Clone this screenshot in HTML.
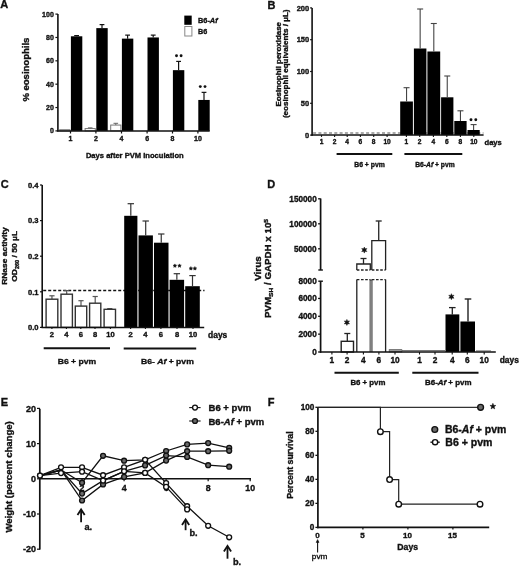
<!DOCTYPE html>
<html><head><meta charset="utf-8"><style>
html,body{margin:0;padding:0;background:#fff;}
body{width:520px;height:566px;overflow:hidden;}
svg{display:block;font-family:"Liberation Sans", sans-serif;filter:grayscale(100%) blur(0.3px);}
text{stroke:#111;stroke-width:0.35px;}
</style></head><body>
<svg width="520" height="566" viewBox="0 0 520 566">
<rect width="520" height="566" fill="#fff"/>
<text x="0.30" y="8.40" font-size="11" text-anchor="start" font-weight="bold" fill="#111">A</text>
<rect x="59.70" y="129.73" width="10.20" height="1.17" fill="#fff" stroke="#777" stroke-width="1"/>
<rect x="70.90" y="36.29" width="11.40" height="94.61" fill="#000" stroke="none" stroke-width="0"/>
<line x1="76.60" y1="36.29" x2="76.60" y2="35.59" stroke="#111" stroke-width="1.2"/>
<line x1="74.20" y1="35.59" x2="79.00" y2="35.59" stroke="#111" stroke-width="1.2"/>
<rect x="85.10" y="128.56" width="10.20" height="2.34" fill="#fff" stroke="#777" stroke-width="1"/>
<line x1="90.20" y1="128.56" x2="90.20" y2="127.86" stroke="#666" stroke-width="1"/>
<line x1="87.90" y1="127.86" x2="92.50" y2="127.86" stroke="#666" stroke-width="1"/>
<rect x="96.30" y="28.12" width="11.40" height="102.78" fill="#000" stroke="none" stroke-width="0"/>
<line x1="102.00" y1="28.12" x2="102.00" y2="24.61" stroke="#111" stroke-width="1.2"/>
<line x1="99.60" y1="24.61" x2="104.40" y2="24.61" stroke="#111" stroke-width="1.2"/>
<rect x="110.70" y="125.06" width="10.20" height="5.84" fill="#fff" stroke="#777" stroke-width="1"/>
<line x1="115.80" y1="125.06" x2="115.80" y2="123.31" stroke="#666" stroke-width="1"/>
<line x1="113.50" y1="123.31" x2="118.10" y2="123.31" stroke="#666" stroke-width="1"/>
<rect x="121.90" y="38.63" width="11.40" height="92.27" fill="#000" stroke="none" stroke-width="0"/>
<line x1="127.60" y1="38.63" x2="127.60" y2="35.12" stroke="#111" stroke-width="1.2"/>
<line x1="125.20" y1="35.12" x2="130.00" y2="35.12" stroke="#111" stroke-width="1.2"/>
<rect x="147.50" y="37.46" width="11.40" height="93.44" fill="#000" stroke="none" stroke-width="0"/>
<line x1="153.20" y1="37.46" x2="153.20" y2="35.12" stroke="#111" stroke-width="1.2"/>
<line x1="150.80" y1="35.12" x2="155.60" y2="35.12" stroke="#111" stroke-width="1.2"/>
<rect x="172.90" y="70.16" width="11.40" height="60.74" fill="#000" stroke="none" stroke-width="0"/>
<line x1="178.60" y1="70.16" x2="178.60" y2="61.40" stroke="#111" stroke-width="1.2"/>
<line x1="176.20" y1="61.40" x2="181.00" y2="61.40" stroke="#111" stroke-width="1.2"/>
<rect x="198.30" y="99.95" width="11.40" height="30.95" fill="#000" stroke="none" stroke-width="0"/>
<line x1="204.00" y1="99.95" x2="204.00" y2="92.36" stroke="#111" stroke-width="1.2"/>
<line x1="201.60" y1="92.36" x2="206.40" y2="92.36" stroke="#111" stroke-width="1.2"/>
<circle cx="176.5" cy="55.8" r="1.45" fill="#111"/>
<circle cx="181.1" cy="55.8" r="1.45" fill="#111"/>
<circle cx="200.3" cy="86.6" r="1.45" fill="#111"/>
<circle cx="205.0" cy="86.6" r="1.45" fill="#111"/>
<line x1="57.90" y1="14.10" x2="57.90" y2="131.60" stroke="#111" stroke-width="1.6"/>
<line x1="57.20" y1="130.90" x2="209.70" y2="130.90" stroke="#111" stroke-width="1.5"/>
<line x1="55.40" y1="130.90" x2="57.90" y2="130.90" stroke="#111" stroke-width="1.2"/>
<text x="53.80" y="133.40" font-size="7" text-anchor="end" font-weight="bold" fill="#111">0</text>
<line x1="55.40" y1="107.54" x2="57.90" y2="107.54" stroke="#111" stroke-width="1.2"/>
<text x="53.80" y="110.04" font-size="7" text-anchor="end" font-weight="bold" fill="#111">20</text>
<line x1="55.40" y1="84.18" x2="57.90" y2="84.18" stroke="#111" stroke-width="1.2"/>
<text x="53.80" y="86.68" font-size="7" text-anchor="end" font-weight="bold" fill="#111">40</text>
<line x1="55.40" y1="60.82" x2="57.90" y2="60.82" stroke="#111" stroke-width="1.2"/>
<text x="53.80" y="63.32" font-size="7" text-anchor="end" font-weight="bold" fill="#111">60</text>
<line x1="55.40" y1="37.46" x2="57.90" y2="37.46" stroke="#111" stroke-width="1.2"/>
<text x="53.80" y="39.96" font-size="7" text-anchor="end" font-weight="bold" fill="#111">80</text>
<line x1="55.40" y1="14.10" x2="57.90" y2="14.10" stroke="#111" stroke-width="1.2"/>
<text x="53.80" y="16.60" font-size="7" text-anchor="end" font-weight="bold" fill="#111">100</text>
<line x1="70.50" y1="130.90" x2="70.50" y2="133.50" stroke="#111" stroke-width="1.2"/>
<text x="70.50" y="141.10" font-size="7" text-anchor="middle" font-weight="bold" fill="#111">1</text>
<line x1="95.90" y1="130.90" x2="95.90" y2="133.50" stroke="#111" stroke-width="1.2"/>
<text x="95.90" y="141.10" font-size="7" text-anchor="middle" font-weight="bold" fill="#111">2</text>
<line x1="121.50" y1="130.90" x2="121.50" y2="133.50" stroke="#111" stroke-width="1.2"/>
<text x="121.50" y="141.10" font-size="7" text-anchor="middle" font-weight="bold" fill="#111">4</text>
<line x1="147.10" y1="130.90" x2="147.10" y2="133.50" stroke="#111" stroke-width="1.2"/>
<text x="147.10" y="141.10" font-size="7" text-anchor="middle" font-weight="bold" fill="#111">6</text>
<line x1="172.50" y1="130.90" x2="172.50" y2="133.50" stroke="#111" stroke-width="1.2"/>
<text x="172.50" y="141.10" font-size="7" text-anchor="middle" font-weight="bold" fill="#111">8</text>
<line x1="197.90" y1="130.90" x2="197.90" y2="133.50" stroke="#111" stroke-width="1.2"/>
<text x="197.90" y="141.10" font-size="7" text-anchor="middle" font-weight="bold" fill="#111">10</text>
<text x="85.90" y="157.60" font-size="7.6" text-anchor="start" font-weight="bold" fill="#111" textLength="97.8" lengthAdjust="spacingAndGlyphs">Days after PVM inoculation</text>
<text transform="translate(28.60,101.60) rotate(-90)" font-size="8.5" font-weight="bold" fill="#111" textLength="64" lengthAdjust="spacingAndGlyphs">% eosinophils</text>
<rect x="184.30" y="15.60" width="7.40" height="9.20" fill="#000" stroke="none" stroke-width="0"/>
<rect x="184.80" y="26.50" width="7.10" height="9.50" fill="#fff" stroke="#888" stroke-width="1"/>
<text x="198.0" y="22.5" font-size="7.3" font-weight="bold" fill="#111" textLength="19.6" lengthAdjust="spacingAndGlyphs">B6-<tspan font-style="italic">Af</tspan></text>
<text x="198.00" y="33.70" font-size="7.5" text-anchor="start" font-weight="bold" fill="#111" textLength="9.2" lengthAdjust="spacingAndGlyphs">B6</text>
<text x="267.50" y="8.70" font-size="11" text-anchor="start" font-weight="bold" fill="#111">B</text>
<line x1="313.10" y1="133.00" x2="483.50" y2="133.00" stroke="#555" stroke-width="1.2" stroke-dasharray="3,2.3"/>
<rect x="400.20" y="101.50" width="12.70" height="33.60" fill="#000" stroke="none" stroke-width="0"/>
<line x1="406.55" y1="101.50" x2="406.55" y2="87.70" stroke="#444" stroke-width="1.1"/>
<line x1="403.55" y1="87.70" x2="409.55" y2="87.70" stroke="#444" stroke-width="1.1"/>
<rect x="413.90" y="48.50" width="12.50" height="86.60" fill="#000" stroke="none" stroke-width="0"/>
<line x1="420.15" y1="48.50" x2="420.15" y2="9.00" stroke="#444" stroke-width="1.1"/>
<line x1="417.15" y1="9.00" x2="423.15" y2="9.00" stroke="#444" stroke-width="1.1"/>
<rect x="427.40" y="51.50" width="12.80" height="83.60" fill="#000" stroke="none" stroke-width="0"/>
<line x1="433.80" y1="51.50" x2="433.80" y2="23.50" stroke="#444" stroke-width="1.1"/>
<line x1="430.80" y1="23.50" x2="436.80" y2="23.50" stroke="#444" stroke-width="1.1"/>
<rect x="441.10" y="97.30" width="12.30" height="37.80" fill="#000" stroke="none" stroke-width="0"/>
<line x1="447.25" y1="97.30" x2="447.25" y2="76.00" stroke="#444" stroke-width="1.1"/>
<line x1="444.25" y1="76.00" x2="450.25" y2="76.00" stroke="#444" stroke-width="1.1"/>
<rect x="454.30" y="121.00" width="12.30" height="14.10" fill="#000" stroke="none" stroke-width="0"/>
<line x1="460.45" y1="121.00" x2="460.45" y2="110.80" stroke="#444" stroke-width="1.1"/>
<line x1="457.45" y1="110.80" x2="463.45" y2="110.80" stroke="#444" stroke-width="1.1"/>
<rect x="467.50" y="130.00" width="12.20" height="5.10" fill="#000" stroke="none" stroke-width="0"/>
<line x1="473.60" y1="130.00" x2="473.60" y2="124.60" stroke="#444" stroke-width="1.1"/>
<line x1="470.60" y1="124.60" x2="476.60" y2="124.60" stroke="#444" stroke-width="1.1"/>
<circle cx="471.0" cy="119.8" r="1.45" fill="#111"/>
<circle cx="475.8" cy="119.8" r="1.45" fill="#111"/>
<line x1="312.10" y1="7.90" x2="312.10" y2="135.80" stroke="#111" stroke-width="1.6"/>
<line x1="311.40" y1="135.10" x2="483.60" y2="135.10" stroke="#111" stroke-width="1.5"/>
<line x1="310.10" y1="135.10" x2="312.10" y2="135.10" stroke="#111" stroke-width="1.2"/>
<text x="309.20" y="137.80" font-size="7.5" text-anchor="end" font-weight="bold" fill="#111">0</text>
<line x1="310.10" y1="103.30" x2="312.10" y2="103.30" stroke="#111" stroke-width="1.2"/>
<text x="309.20" y="106.00" font-size="7.5" text-anchor="end" font-weight="bold" fill="#111">50</text>
<line x1="310.10" y1="71.50" x2="312.10" y2="71.50" stroke="#111" stroke-width="1.2"/>
<text x="309.20" y="74.20" font-size="7.5" text-anchor="end" font-weight="bold" fill="#111">100</text>
<line x1="310.10" y1="39.70" x2="312.10" y2="39.70" stroke="#111" stroke-width="1.2"/>
<text x="309.20" y="42.40" font-size="7.5" text-anchor="end" font-weight="bold" fill="#111">150</text>
<line x1="310.10" y1="7.90" x2="312.10" y2="7.90" stroke="#111" stroke-width="1.2"/>
<text x="309.20" y="10.60" font-size="7.5" text-anchor="end" font-weight="bold" fill="#111">200</text>
<line x1="321.50" y1="135.10" x2="321.50" y2="136.90" stroke="#111" stroke-width="1.1"/>
<text x="321.50" y="144.40" font-size="6.6" text-anchor="middle" font-weight="bold" fill="#111">1</text>
<line x1="334.60" y1="135.10" x2="334.60" y2="136.90" stroke="#111" stroke-width="1.1"/>
<text x="334.60" y="144.40" font-size="6.6" text-anchor="middle" font-weight="bold" fill="#111">2</text>
<line x1="347.20" y1="135.10" x2="347.20" y2="136.90" stroke="#111" stroke-width="1.1"/>
<text x="347.20" y="144.40" font-size="6.6" text-anchor="middle" font-weight="bold" fill="#111">4</text>
<line x1="360.40" y1="135.10" x2="360.40" y2="136.90" stroke="#111" stroke-width="1.1"/>
<text x="360.40" y="144.40" font-size="6.6" text-anchor="middle" font-weight="bold" fill="#111">6</text>
<line x1="373.70" y1="135.10" x2="373.70" y2="136.90" stroke="#111" stroke-width="1.1"/>
<text x="373.70" y="144.40" font-size="6.6" text-anchor="middle" font-weight="bold" fill="#111">8</text>
<line x1="387.10" y1="135.10" x2="387.10" y2="136.90" stroke="#111" stroke-width="1.1"/>
<text x="387.10" y="144.40" font-size="6.6" text-anchor="middle" font-weight="bold" fill="#111">10</text>
<line x1="406.40" y1="135.10" x2="406.40" y2="136.90" stroke="#111" stroke-width="1.1"/>
<text x="406.40" y="144.40" font-size="6.6" text-anchor="middle" font-weight="bold" fill="#111">1</text>
<line x1="419.70" y1="135.10" x2="419.70" y2="136.90" stroke="#111" stroke-width="1.1"/>
<text x="419.70" y="144.40" font-size="6.6" text-anchor="middle" font-weight="bold" fill="#111">2</text>
<line x1="433.40" y1="135.10" x2="433.40" y2="136.90" stroke="#111" stroke-width="1.1"/>
<text x="433.40" y="144.40" font-size="6.6" text-anchor="middle" font-weight="bold" fill="#111">4</text>
<line x1="446.80" y1="135.10" x2="446.80" y2="136.90" stroke="#111" stroke-width="1.1"/>
<text x="446.80" y="144.40" font-size="6.6" text-anchor="middle" font-weight="bold" fill="#111">6</text>
<line x1="460.40" y1="135.10" x2="460.40" y2="136.90" stroke="#111" stroke-width="1.1"/>
<text x="460.40" y="144.40" font-size="6.6" text-anchor="middle" font-weight="bold" fill="#111">8</text>
<line x1="473.80" y1="135.10" x2="473.80" y2="136.90" stroke="#111" stroke-width="1.1"/>
<text x="473.80" y="144.40" font-size="6.6" text-anchor="middle" font-weight="bold" fill="#111">10</text>
<text x="484.50" y="144.70" font-size="7.6" text-anchor="start" font-weight="bold" fill="#111" textLength="17.3" lengthAdjust="spacingAndGlyphs">days</text>
<line x1="336.60" y1="154.00" x2="392.30" y2="154.00" stroke="#111" stroke-width="2.0"/>
<line x1="404.40" y1="154.00" x2="462.30" y2="154.00" stroke="#111" stroke-width="2.0"/>
<text x="354.20" y="167.00" font-size="7" text-anchor="start" font-weight="bold" fill="#111" textLength="30.7" lengthAdjust="spacingAndGlyphs">B6 + pvm</text>
<text x="415.2" y="167.0" font-size="7" font-weight="bold" fill="#111" textLength="39.5" lengthAdjust="spacingAndGlyphs">B6-<tspan font-style="italic">Af</tspan> + pvm</text>
<text transform="translate(280.90,106.60) rotate(-90)" font-size="7.6" font-weight="bold" fill="#111" textLength="84.6" lengthAdjust="spacingAndGlyphs">Eosinophil peroxidase</text>
<text transform="translate(287.50,118.10) rotate(-90)" font-size="7.6" font-weight="bold" fill="#111" textLength="108.6" lengthAdjust="spacingAndGlyphs">(eosinophil equivalents / µL)</text>
<text x="0.80" y="188.40" font-size="11" text-anchor="start" font-weight="bold" fill="#111">C</text>
<line x1="43.20" y1="290.50" x2="204.50" y2="290.50" stroke="#111" stroke-width="1.4" stroke-dasharray="3,2"/>
<line x1="51.95" y1="299.20" x2="51.95" y2="295.80" stroke="#555" stroke-width="1.2"/>
<line x1="49.35" y1="295.80" x2="54.55" y2="295.80" stroke="#555" stroke-width="1.2"/>
<rect x="46.10" y="299.20" width="11.70" height="28.20" fill="#fff" stroke="#333" stroke-width="1.4"/>
<line x1="66.70" y1="294.20" x2="66.70" y2="290.60" stroke="#555" stroke-width="1.2"/>
<line x1="64.10" y1="290.60" x2="69.30" y2="290.60" stroke="#555" stroke-width="1.2"/>
<rect x="61.00" y="294.20" width="11.40" height="33.20" fill="#fff" stroke="#333" stroke-width="1.4"/>
<line x1="81.00" y1="306.10" x2="81.00" y2="300.70" stroke="#555" stroke-width="1.2"/>
<line x1="78.40" y1="300.70" x2="83.60" y2="300.70" stroke="#555" stroke-width="1.2"/>
<rect x="75.30" y="306.10" width="11.40" height="21.30" fill="#fff" stroke="#333" stroke-width="1.4"/>
<line x1="95.20" y1="303.20" x2="95.20" y2="296.50" stroke="#555" stroke-width="1.2"/>
<line x1="92.60" y1="296.50" x2="97.80" y2="296.50" stroke="#555" stroke-width="1.2"/>
<rect x="89.60" y="303.20" width="11.20" height="24.20" fill="#fff" stroke="#333" stroke-width="1.4"/>
<line x1="109.80" y1="309.30" x2="109.80" y2="308.60" stroke="#555" stroke-width="1.2"/>
<line x1="107.20" y1="308.60" x2="112.40" y2="308.60" stroke="#555" stroke-width="1.2"/>
<rect x="104.10" y="309.30" width="11.40" height="18.10" fill="#fff" stroke="#333" stroke-width="1.4"/>
<rect x="124.20" y="215.80" width="13.20" height="111.60" fill="#000" stroke="none" stroke-width="0"/>
<line x1="130.80" y1="215.80" x2="130.80" y2="203.70" stroke="#333" stroke-width="1.2"/>
<line x1="127.60" y1="203.70" x2="134.00" y2="203.70" stroke="#333" stroke-width="1.2"/>
<rect x="138.50" y="235.40" width="14.40" height="92.00" fill="#000" stroke="none" stroke-width="0"/>
<line x1="145.70" y1="235.40" x2="145.70" y2="221.00" stroke="#333" stroke-width="1.2"/>
<line x1="142.50" y1="221.00" x2="148.90" y2="221.00" stroke="#333" stroke-width="1.2"/>
<rect x="154.00" y="242.70" width="14.50" height="84.70" fill="#000" stroke="none" stroke-width="0"/>
<line x1="161.25" y1="242.70" x2="161.25" y2="234.00" stroke="#333" stroke-width="1.2"/>
<line x1="158.05" y1="234.00" x2="164.45" y2="234.00" stroke="#333" stroke-width="1.2"/>
<rect x="169.60" y="279.80" width="14.50" height="47.60" fill="#000" stroke="none" stroke-width="0"/>
<line x1="176.85" y1="279.80" x2="176.85" y2="273.70" stroke="#333" stroke-width="1.2"/>
<line x1="173.65" y1="273.70" x2="180.05" y2="273.70" stroke="#333" stroke-width="1.2"/>
<rect x="185.20" y="286.20" width="14.60" height="41.20" fill="#000" stroke="none" stroke-width="0"/>
<line x1="192.50" y1="286.20" x2="192.50" y2="275.60" stroke="#333" stroke-width="1.2"/>
<line x1="189.30" y1="275.60" x2="195.70" y2="275.60" stroke="#333" stroke-width="1.2"/>
<polygon points="174.90,263.90 175.43,265.07 176.71,265.21 175.76,266.08 176.02,267.34 174.90,266.70 173.78,267.34 174.04,266.08 173.09,265.21 174.37,265.07" fill="#111" stroke="#111" stroke-width="0.5" stroke-linejoin="round"/>
<polygon points="179.50,263.90 180.03,265.07 181.31,265.21 180.36,266.08 180.62,267.34 179.50,266.70 178.38,267.34 178.64,266.08 177.69,265.21 178.97,265.07" fill="#111" stroke="#111" stroke-width="0.5" stroke-linejoin="round"/>
<polygon points="190.90,266.60 191.43,267.77 192.71,267.91 191.76,268.78 192.02,270.04 190.90,269.40 189.78,270.04 190.04,268.78 189.09,267.91 190.37,267.77" fill="#111" stroke="#111" stroke-width="0.5" stroke-linejoin="round"/>
<polygon points="194.90,266.60 195.43,267.77 196.71,267.91 195.76,268.78 196.02,270.04 194.90,269.40 193.78,270.04 194.04,268.78 193.09,267.91 194.37,267.77" fill="#111" stroke="#111" stroke-width="0.5" stroke-linejoin="round"/>
<line x1="42.20" y1="185.00" x2="42.20" y2="328.10" stroke="#111" stroke-width="1.6"/>
<line x1="41.50" y1="327.40" x2="204.20" y2="327.40" stroke="#111" stroke-width="1.5"/>
<line x1="40.00" y1="327.40" x2="42.20" y2="327.40" stroke="#111" stroke-width="1.2"/>
<text x="38.60" y="330.10" font-size="7.6" text-anchor="end" font-weight="bold" fill="#111">0.0</text>
<line x1="40.00" y1="291.80" x2="42.20" y2="291.80" stroke="#111" stroke-width="1.2"/>
<text x="38.60" y="294.50" font-size="7.6" text-anchor="end" font-weight="bold" fill="#111">0.1</text>
<line x1="40.00" y1="256.20" x2="42.20" y2="256.20" stroke="#111" stroke-width="1.2"/>
<text x="38.60" y="258.90" font-size="7.6" text-anchor="end" font-weight="bold" fill="#111">0.2</text>
<line x1="40.00" y1="220.60" x2="42.20" y2="220.60" stroke="#111" stroke-width="1.2"/>
<text x="38.60" y="223.30" font-size="7.6" text-anchor="end" font-weight="bold" fill="#111">0.3</text>
<line x1="40.00" y1="185.00" x2="42.20" y2="185.00" stroke="#111" stroke-width="1.2"/>
<text x="38.60" y="187.70" font-size="7.6" text-anchor="end" font-weight="bold" fill="#111">0.4</text>
<line x1="51.90" y1="327.40" x2="51.90" y2="329.00" stroke="#111" stroke-width="1.1"/>
<text x="51.90" y="337.40" font-size="7.6" text-anchor="middle" font-weight="bold" fill="#111">2</text>
<line x1="66.40" y1="327.40" x2="66.40" y2="329.00" stroke="#111" stroke-width="1.1"/>
<text x="66.40" y="337.40" font-size="7.6" text-anchor="middle" font-weight="bold" fill="#111">4</text>
<line x1="80.80" y1="327.40" x2="80.80" y2="329.00" stroke="#111" stroke-width="1.1"/>
<text x="80.80" y="337.40" font-size="7.6" text-anchor="middle" font-weight="bold" fill="#111">6</text>
<line x1="95.00" y1="327.40" x2="95.00" y2="329.00" stroke="#111" stroke-width="1.1"/>
<text x="95.00" y="337.40" font-size="7.6" text-anchor="middle" font-weight="bold" fill="#111">8</text>
<line x1="110.40" y1="327.40" x2="110.40" y2="329.00" stroke="#111" stroke-width="1.1"/>
<text x="110.40" y="337.40" font-size="7.6" text-anchor="middle" font-weight="bold" fill="#111">10</text>
<line x1="130.60" y1="327.40" x2="130.60" y2="329.00" stroke="#111" stroke-width="1.1"/>
<text x="130.60" y="337.40" font-size="7.6" text-anchor="middle" font-weight="bold" fill="#111">2</text>
<line x1="145.40" y1="327.40" x2="145.40" y2="329.00" stroke="#111" stroke-width="1.1"/>
<text x="145.40" y="337.40" font-size="7.6" text-anchor="middle" font-weight="bold" fill="#111">4</text>
<line x1="160.90" y1="327.40" x2="160.90" y2="329.00" stroke="#111" stroke-width="1.1"/>
<text x="160.90" y="337.40" font-size="7.6" text-anchor="middle" font-weight="bold" fill="#111">6</text>
<line x1="177.00" y1="327.40" x2="177.00" y2="329.00" stroke="#111" stroke-width="1.1"/>
<text x="177.00" y="337.40" font-size="7.6" text-anchor="middle" font-weight="bold" fill="#111">8</text>
<line x1="193.00" y1="327.40" x2="193.00" y2="329.00" stroke="#111" stroke-width="1.1"/>
<text x="193.00" y="337.40" font-size="7.6" text-anchor="middle" font-weight="bold" fill="#111">10</text>
<text x="208.00" y="337.80" font-size="8.6" text-anchor="start" font-weight="bold" fill="#111" textLength="19.3" lengthAdjust="spacingAndGlyphs">days</text>
<line x1="43.70" y1="348.30" x2="110.00" y2="348.30" stroke="#111" stroke-width="2.0"/>
<line x1="123.70" y1="348.50" x2="196.20" y2="348.50" stroke="#111" stroke-width="2.0"/>
<text x="57.70" y="364.00" font-size="8.0" text-anchor="start" font-weight="bold" fill="#111" textLength="38.5" lengthAdjust="spacingAndGlyphs">B6 + pvm</text>
<text x="141.0" y="364.0" font-size="8" font-weight="bold" fill="#111" textLength="52.8" lengthAdjust="spacingAndGlyphs">B6- <tspan font-style="italic">Af</tspan> + pvm</text>
<text transform="translate(7.00,284.80) rotate(-90)" font-size="8.0" font-weight="bold" fill="#111" textLength="57.6" lengthAdjust="spacingAndGlyphs">RNase activity</text>
<text transform="translate(17.0,281.8) rotate(-90)" font-size="8" font-weight="bold" fill="#111" textLength="51" lengthAdjust="spacingAndGlyphs">OD<tspan font-size="5.2" dy="1.6">260</tspan><tspan dy="-1.6"> / 50 µL</tspan></text>
<text x="267.30" y="188.40" font-size="11" text-anchor="start" font-weight="bold" fill="#111">D</text>
<line x1="347.30" y1="341.30" x2="347.30" y2="333.50" stroke="#222" stroke-width="1.3"/>
<line x1="344.30" y1="333.50" x2="350.30" y2="333.50" stroke="#222" stroke-width="1.3"/>
<rect x="341.20" y="341.30" width="12.30" height="10.70" fill="#fff" stroke="#222" stroke-width="1.4"/>
<path d="M356.80 352 V279.6 M370.30 279.6 V352" stroke="#222" stroke-width="1.3" fill="none"/>
<line x1="356.80" y1="279.60" x2="370.30" y2="279.60" stroke="#222" stroke-width="1.4" stroke-dasharray="2.6,1.6"/>
<path d="M371.80 352 V279.6 M385.60 279.6 V352" stroke="#222" stroke-width="1.3" fill="none"/>
<line x1="371.80" y1="279.60" x2="385.60" y2="279.60" stroke="#222" stroke-width="1.4" stroke-dasharray="2.6,1.6"/>
<line x1="371.00" y1="280.50" x2="371.00" y2="352.00" stroke="#888" stroke-width="1.8"/>
<line x1="363.50" y1="264.00" x2="363.50" y2="258.50" stroke="#222" stroke-width="1.3"/>
<line x1="360.50" y1="258.50" x2="366.50" y2="258.50" stroke="#222" stroke-width="1.3"/>
<line x1="378.70" y1="240.60" x2="378.70" y2="221.00" stroke="#333" stroke-width="1.4"/>
<line x1="375.70" y1="221.00" x2="381.70" y2="221.00" stroke="#333" stroke-width="1.4"/>
<path d="M356.8 270 V264 H370.3 V270" stroke="#222" stroke-width="1.3" fill="none"/>
<path d="M371.8 270 V240.6 H385.6 V270" stroke="#222" stroke-width="1.3" fill="none"/>
<line x1="356.80" y1="270.00" x2="370.30" y2="270.00" stroke="#222" stroke-width="1.3" stroke-dasharray="2.6,1.6"/>
<line x1="371.80" y1="270.00" x2="385.60" y2="270.00" stroke="#222" stroke-width="1.3" stroke-dasharray="2.6,1.6"/>
<rect x="389.20" y="349.60" width="12.60" height="2.40" fill="#999" stroke="#666" stroke-width="0.8"/>
<polygon points="346.90,319.40 347.62,321.14 349.50,320.90 348.35,322.40 349.50,323.90 347.62,323.66 346.90,325.40 346.17,323.66 344.30,323.90 345.45,322.40 344.30,320.90 346.17,321.14" fill="#111" stroke="#111" stroke-width="0.5" stroke-linejoin="round"/>
<polygon points="364.30,247.10 365.03,248.84 366.90,248.60 365.75,250.10 366.90,251.60 365.03,251.36 364.30,253.10 363.57,251.36 361.70,251.60 362.85,250.10 361.70,248.60 363.57,248.84" fill="#111" stroke="#111" stroke-width="0.5" stroke-linejoin="round"/>
<polygon points="451.40,293.70 452.12,295.44 454.00,295.20 452.85,296.70 454.00,298.20 452.12,297.96 451.40,299.70 450.67,297.96 448.80,298.20 449.95,296.70 448.80,295.20 450.67,295.44" fill="#111" stroke="#111" stroke-width="0.5" stroke-linejoin="round"/>
<line x1="452.30" y1="314.40" x2="452.30" y2="307.60" stroke="#222" stroke-width="1.3"/>
<line x1="449.00" y1="307.60" x2="455.60" y2="307.60" stroke="#222" stroke-width="1.3"/>
<rect x="445.50" y="314.40" width="13.80" height="37.60" fill="#000" stroke="none" stroke-width="0"/>
<line x1="468.00" y1="321.50" x2="468.00" y2="299.00" stroke="#222" stroke-width="1.4"/>
<line x1="464.70" y1="299.00" x2="471.30" y2="299.00" stroke="#222" stroke-width="1.4"/>
<rect x="460.40" y="321.50" width="14.60" height="30.50" fill="#000" stroke="none" stroke-width="0"/>
<line x1="402.00" y1="350.60" x2="445.00" y2="350.60" stroke="#444" stroke-width="0.8"/>
<line x1="476.00" y1="350.80" x2="491.00" y2="350.80" stroke="#666" stroke-width="0.8"/>
<line x1="320.60" y1="198.50" x2="320.60" y2="270.00" stroke="#111" stroke-width="1.7"/>
<line x1="318.30" y1="270.00" x2="322.90" y2="270.00" stroke="#111" stroke-width="1.4"/>
<line x1="320.60" y1="281.20" x2="320.60" y2="352.70" stroke="#111" stroke-width="1.7"/>
<line x1="318.30" y1="281.20" x2="322.90" y2="281.20" stroke="#111" stroke-width="1.4"/>
<line x1="319.90" y1="352.00" x2="495.80" y2="352.00" stroke="#111" stroke-width="1.5"/>
<line x1="318.10" y1="248.80" x2="320.60" y2="248.80" stroke="#111" stroke-width="1.3"/>
<text x="316.70" y="251.70" font-size="8.2" text-anchor="end" font-weight="bold" fill="#111">50000</text>
<line x1="318.10" y1="223.80" x2="320.60" y2="223.80" stroke="#111" stroke-width="1.3"/>
<text x="316.70" y="226.70" font-size="8.2" text-anchor="end" font-weight="bold" fill="#111">100000</text>
<line x1="318.10" y1="198.80" x2="320.60" y2="198.80" stroke="#111" stroke-width="1.3"/>
<text x="316.70" y="201.70" font-size="8.2" text-anchor="end" font-weight="bold" fill="#111">150000</text>
<line x1="318.10" y1="352.00" x2="320.60" y2="352.00" stroke="#111" stroke-width="1.3"/>
<text x="316.70" y="354.90" font-size="8.2" text-anchor="end" font-weight="bold" fill="#111">0</text>
<line x1="318.10" y1="334.15" x2="320.60" y2="334.15" stroke="#111" stroke-width="1.3"/>
<text x="316.70" y="337.05" font-size="8.2" text-anchor="end" font-weight="bold" fill="#111">2000</text>
<line x1="318.10" y1="316.30" x2="320.60" y2="316.30" stroke="#111" stroke-width="1.3"/>
<text x="316.70" y="319.20" font-size="8.2" text-anchor="end" font-weight="bold" fill="#111">4000</text>
<line x1="318.10" y1="298.45" x2="320.60" y2="298.45" stroke="#111" stroke-width="1.3"/>
<text x="316.70" y="301.35" font-size="8.2" text-anchor="end" font-weight="bold" fill="#111">6000</text>
<text x="316.70" y="283.50" font-size="8.2" text-anchor="end" font-weight="bold" fill="#111">8000</text>
<line x1="331.90" y1="352.00" x2="331.90" y2="354.50" stroke="#111" stroke-width="1.1"/>
<text x="331.90" y="363.10" font-size="8.3" text-anchor="middle" font-weight="bold" fill="#111">1</text>
<line x1="347.10" y1="352.00" x2="347.10" y2="354.50" stroke="#111" stroke-width="1.1"/>
<text x="347.10" y="363.10" font-size="8.3" text-anchor="middle" font-weight="bold" fill="#111">2</text>
<line x1="363.40" y1="352.00" x2="363.40" y2="354.50" stroke="#111" stroke-width="1.1"/>
<text x="363.40" y="363.10" font-size="8.3" text-anchor="middle" font-weight="bold" fill="#111">4</text>
<line x1="378.90" y1="352.00" x2="378.90" y2="354.50" stroke="#111" stroke-width="1.1"/>
<text x="378.90" y="363.10" font-size="8.3" text-anchor="middle" font-weight="bold" fill="#111">6</text>
<line x1="395.00" y1="352.00" x2="395.00" y2="354.50" stroke="#111" stroke-width="1.1"/>
<text x="395.00" y="363.10" font-size="8.3" text-anchor="middle" font-weight="bold" fill="#111">10</text>
<line x1="419.50" y1="352.00" x2="419.50" y2="354.50" stroke="#111" stroke-width="1.1"/>
<text x="419.50" y="363.10" font-size="8.3" text-anchor="middle" font-weight="bold" fill="#111">1</text>
<line x1="435.00" y1="352.00" x2="435.00" y2="354.50" stroke="#111" stroke-width="1.1"/>
<text x="435.00" y="363.10" font-size="8.3" text-anchor="middle" font-weight="bold" fill="#111">2</text>
<line x1="452.20" y1="352.00" x2="452.20" y2="354.50" stroke="#111" stroke-width="1.1"/>
<text x="452.20" y="363.10" font-size="8.3" text-anchor="middle" font-weight="bold" fill="#111">4</text>
<line x1="467.30" y1="352.00" x2="467.30" y2="354.50" stroke="#111" stroke-width="1.1"/>
<text x="467.30" y="363.10" font-size="8.3" text-anchor="middle" font-weight="bold" fill="#111">6</text>
<line x1="484.20" y1="352.00" x2="484.20" y2="354.50" stroke="#111" stroke-width="1.1"/>
<text x="484.20" y="363.10" font-size="8.3" text-anchor="middle" font-weight="bold" fill="#111">10</text>
<text x="499.70" y="363.20" font-size="8.6" text-anchor="start" font-weight="bold" fill="#111" textLength="19.2" lengthAdjust="spacingAndGlyphs">days</text>
<line x1="334.50" y1="372.80" x2="398.80" y2="372.80" stroke="#111" stroke-width="1.9"/>
<line x1="412.30" y1="372.80" x2="478.50" y2="372.80" stroke="#111" stroke-width="1.9"/>
<text x="350.40" y="385.40" font-size="7.5" text-anchor="start" font-weight="bold" fill="#111" textLength="35" lengthAdjust="spacingAndGlyphs">B6 + pvm</text>
<text x="425" y="385.4" font-size="7.5" font-weight="bold" fill="#111" textLength="46.5" lengthAdjust="spacingAndGlyphs">B6-<tspan font-style="italic">Af</tspan> + pvm</text>
<text transform="translate(261.00,280.80) rotate(-90)" font-size="9" font-weight="bold" fill="#111" textLength="24.5" lengthAdjust="spacingAndGlyphs">Virus</text>
<text transform="translate(271.2,318) rotate(-90)" font-size="8.3" font-weight="bold" fill="#111" textLength="99" lengthAdjust="spacingAndGlyphs">PVM<tspan font-size="5.6" dy="1.6">SH</tspan><tspan dy="-1.6"> / GAPDH x 10</tspan><tspan font-size="5.6" dy="-3.2">5</tspan></text>
<text x="0.80" y="406.40" font-size="11" text-anchor="start" font-weight="bold" fill="#111">E</text>
<line x1="39.80" y1="408.80" x2="39.80" y2="549.60" stroke="#111" stroke-width="1.7"/>
<line x1="39.30" y1="478.80" x2="251.00" y2="478.80" stroke="#111" stroke-width="1.5"/>
<line x1="37.00" y1="408.40" x2="40.00" y2="408.40" stroke="#111" stroke-width="1.2"/>
<text x="36.00" y="411.50" font-size="9" text-anchor="end" font-weight="bold" fill="#111">20</text>
<line x1="37.00" y1="443.60" x2="40.00" y2="443.60" stroke="#111" stroke-width="1.2"/>
<text x="36.00" y="446.70" font-size="9" text-anchor="end" font-weight="bold" fill="#111">10</text>
<line x1="37.00" y1="478.80" x2="40.00" y2="478.80" stroke="#111" stroke-width="1.2"/>
<text x="36.00" y="481.90" font-size="9" text-anchor="end" font-weight="bold" fill="#111">0</text>
<line x1="37.00" y1="514.00" x2="40.00" y2="514.00" stroke="#111" stroke-width="1.2"/>
<text x="36.00" y="517.10" font-size="9" text-anchor="end" font-weight="bold" fill="#111">-10</text>
<line x1="37.00" y1="549.20" x2="40.00" y2="549.20" stroke="#111" stroke-width="1.2"/>
<text x="36.00" y="552.30" font-size="9" text-anchor="end" font-weight="bold" fill="#111">-20</text>
<line x1="82.04" y1="478.80" x2="82.04" y2="481.30" stroke="#111" stroke-width="1.2"/>
<text x="82.04" y="491.00" font-size="8.8" text-anchor="middle" font-weight="bold" fill="#111">2</text>
<line x1="124.08" y1="478.80" x2="124.08" y2="481.30" stroke="#111" stroke-width="1.2"/>
<text x="124.08" y="491.00" font-size="8.8" text-anchor="middle" font-weight="bold" fill="#111">4</text>
<line x1="166.12" y1="478.80" x2="166.12" y2="481.30" stroke="#111" stroke-width="1.2"/>
<text x="166.12" y="491.00" font-size="8.8" text-anchor="middle" font-weight="bold" fill="#111">6</text>
<line x1="208.16" y1="478.80" x2="208.16" y2="481.30" stroke="#111" stroke-width="1.2"/>
<text x="208.16" y="491.00" font-size="8.8" text-anchor="middle" font-weight="bold" fill="#111">8</text>
<line x1="250.20" y1="478.80" x2="250.20" y2="481.30" stroke="#111" stroke-width="1.2"/>
<text x="250.20" y="491.00" font-size="8.8" text-anchor="middle" font-weight="bold" fill="#111">10</text>
<polyline points="40.00,475.60 61.02,470.00 82.04,482.70 103.06,455.80 124.08,460.70 145.10,459.80 166.12,451.00 187.14,444.40 208.16,443.10 229.18,447.90" fill="none" stroke="#111" stroke-width="1.3"/>
<polyline points="40.00,475.60 61.02,470.00 82.04,493.60 103.06,480.60 124.08,471.30 145.10,465.40 166.12,455.60 187.14,456.90 208.16,465.20 229.18,466.70" fill="none" stroke="#111" stroke-width="1.3"/>
<polyline points="40.00,475.60 61.02,470.00 82.04,500.50 103.06,484.40 124.08,476.90 145.10,472.90 166.12,460.60 187.14,451.20 208.16,451.20 229.18,450.80" fill="none" stroke="#111" stroke-width="1.3"/>
<polyline points="40.00,475.60 61.02,467.30 82.04,467.30 103.06,475.20 124.08,467.30 145.10,459.80 166.12,483.10 187.14,506.20 208.16,525.80 229.18,537.30" fill="none" stroke="#111" stroke-width="1.3"/>
<polyline points="40.00,475.60 61.02,473.10 82.04,471.70 103.06,480.60 124.08,471.30 145.10,472.90 166.12,486.90 187.14,509.40" fill="none" stroke="#111" stroke-width="1.3"/>
<circle cx="82.04" cy="482.70" r="2.45" fill="#6a6a6a" stroke="#111" stroke-width="1.35"/>
<circle cx="103.06" cy="455.80" r="2.45" fill="#6a6a6a" stroke="#111" stroke-width="1.35"/>
<circle cx="124.08" cy="460.70" r="2.45" fill="#6a6a6a" stroke="#111" stroke-width="1.35"/>
<circle cx="145.10" cy="459.80" r="2.45" fill="#6a6a6a" stroke="#111" stroke-width="1.35"/>
<circle cx="166.12" cy="451.00" r="2.45" fill="#6a6a6a" stroke="#111" stroke-width="1.35"/>
<circle cx="187.14" cy="444.40" r="2.45" fill="#6a6a6a" stroke="#111" stroke-width="1.35"/>
<circle cx="208.16" cy="443.10" r="2.45" fill="#6a6a6a" stroke="#111" stroke-width="1.35"/>
<circle cx="229.18" cy="447.90" r="2.45" fill="#6a6a6a" stroke="#111" stroke-width="1.35"/>
<circle cx="82.04" cy="493.60" r="2.45" fill="#6a6a6a" stroke="#111" stroke-width="1.35"/>
<circle cx="103.06" cy="480.60" r="2.45" fill="#6a6a6a" stroke="#111" stroke-width="1.35"/>
<circle cx="124.08" cy="471.30" r="2.45" fill="#6a6a6a" stroke="#111" stroke-width="1.35"/>
<circle cx="145.10" cy="465.40" r="2.45" fill="#6a6a6a" stroke="#111" stroke-width="1.35"/>
<circle cx="166.12" cy="455.60" r="2.45" fill="#6a6a6a" stroke="#111" stroke-width="1.35"/>
<circle cx="187.14" cy="456.90" r="2.45" fill="#6a6a6a" stroke="#111" stroke-width="1.35"/>
<circle cx="208.16" cy="465.20" r="2.45" fill="#6a6a6a" stroke="#111" stroke-width="1.35"/>
<circle cx="229.18" cy="466.70" r="2.45" fill="#6a6a6a" stroke="#111" stroke-width="1.35"/>
<circle cx="82.04" cy="500.50" r="2.45" fill="#6a6a6a" stroke="#111" stroke-width="1.35"/>
<circle cx="103.06" cy="484.40" r="2.45" fill="#6a6a6a" stroke="#111" stroke-width="1.35"/>
<circle cx="124.08" cy="476.90" r="2.45" fill="#6a6a6a" stroke="#111" stroke-width="1.35"/>
<circle cx="145.10" cy="472.90" r="2.45" fill="#6a6a6a" stroke="#111" stroke-width="1.35"/>
<circle cx="166.12" cy="460.60" r="2.45" fill="#6a6a6a" stroke="#111" stroke-width="1.35"/>
<circle cx="187.14" cy="451.20" r="2.45" fill="#6a6a6a" stroke="#111" stroke-width="1.35"/>
<circle cx="208.16" cy="451.20" r="2.45" fill="#6a6a6a" stroke="#111" stroke-width="1.35"/>
<circle cx="229.18" cy="450.80" r="2.45" fill="#6a6a6a" stroke="#111" stroke-width="1.35"/>
<circle cx="40.00" cy="475.60" r="2.45" fill="#fff" stroke="#111" stroke-width="1.35"/>
<circle cx="61.02" cy="467.30" r="2.45" fill="#fff" stroke="#111" stroke-width="1.35"/>
<circle cx="82.04" cy="467.30" r="2.45" fill="#fff" stroke="#111" stroke-width="1.35"/>
<circle cx="103.06" cy="475.20" r="2.45" fill="#fff" stroke="#111" stroke-width="1.35"/>
<circle cx="124.08" cy="467.30" r="2.45" fill="#fff" stroke="#111" stroke-width="1.35"/>
<circle cx="145.10" cy="459.80" r="2.45" fill="#fff" stroke="#111" stroke-width="1.35"/>
<circle cx="166.12" cy="483.10" r="2.45" fill="#fff" stroke="#111" stroke-width="1.35"/>
<circle cx="187.14" cy="506.20" r="2.45" fill="#fff" stroke="#111" stroke-width="1.35"/>
<circle cx="208.16" cy="525.80" r="2.45" fill="#fff" stroke="#111" stroke-width="1.35"/>
<circle cx="229.18" cy="537.30" r="2.45" fill="#fff" stroke="#111" stroke-width="1.35"/>
<circle cx="40.00" cy="475.60" r="2.45" fill="#fff" stroke="#111" stroke-width="1.35"/>
<circle cx="61.02" cy="473.10" r="2.45" fill="#fff" stroke="#111" stroke-width="1.35"/>
<circle cx="82.04" cy="471.70" r="2.45" fill="#fff" stroke="#111" stroke-width="1.35"/>
<circle cx="103.06" cy="480.60" r="2.45" fill="#fff" stroke="#111" stroke-width="1.35"/>
<circle cx="124.08" cy="471.30" r="2.45" fill="#fff" stroke="#111" stroke-width="1.35"/>
<circle cx="145.10" cy="472.90" r="2.45" fill="#fff" stroke="#111" stroke-width="1.35"/>
<circle cx="166.12" cy="486.90" r="2.45" fill="#fff" stroke="#111" stroke-width="1.35"/>
<circle cx="187.14" cy="509.40" r="2.45" fill="#fff" stroke="#111" stroke-width="1.35"/>
<line x1="189.20" y1="407.60" x2="200.60" y2="407.60" stroke="#111" stroke-width="1.1"/>
<circle cx="195.00" cy="407.60" r="2.45" fill="#fff" stroke="#111" stroke-width="1.35"/>
<line x1="189.20" y1="421.00" x2="200.60" y2="421.00" stroke="#111" stroke-width="1.1"/>
<circle cx="195.00" cy="421.00" r="2.45" fill="#6a6a6a" stroke="#111" stroke-width="1.35"/>
<text x="208.50" y="411.20" font-size="9" text-anchor="start" font-weight="bold" fill="#111" textLength="42.7" lengthAdjust="spacingAndGlyphs">B6 + pvm</text>
<text x="208.5" y="424.6" font-size="9" font-weight="bold" fill="#111" textLength="55.7" lengthAdjust="spacingAndGlyphs">B6-<tspan font-style="italic">Af</tspan> + pvm</text>
<line x1="81.10" y1="510.30" x2="81.10" y2="522.30" stroke="#111" stroke-width="1.8"/>
<path d="M77.50 515.00 L81.10 509.40 L84.70 515.00" fill="none" stroke="#111" stroke-width="1.8" stroke-linejoin="miter"/>
<text x="84.50" y="530.00" font-size="9.2" text-anchor="start" font-weight="bold" fill="#111">a.</text>
<line x1="185.60" y1="520.30" x2="185.60" y2="530.20" stroke="#111" stroke-width="1.8"/>
<path d="M182.00 525.00 L185.60 519.40 L189.20 525.00" fill="none" stroke="#111" stroke-width="1.8" stroke-linejoin="miter"/>
<text x="189.40" y="536.40" font-size="9.2" text-anchor="start" font-weight="bold" fill="#111">b.</text>
<line x1="227.50" y1="546.80" x2="227.50" y2="558.70" stroke="#111" stroke-width="1.8"/>
<path d="M223.90 551.50 L227.50 545.90 L231.10 551.50" fill="none" stroke="#111" stroke-width="1.8" stroke-linejoin="miter"/>
<text x="232.90" y="565.00" font-size="9.2" text-anchor="start" font-weight="bold" fill="#111">b.</text>
<text transform="translate(11.60,532.60) rotate(-90)" font-size="9.2" font-weight="bold" fill="#111" textLength="111.4" lengthAdjust="spacingAndGlyphs">Weight (percent change)</text>
<text x="267.80" y="405.80" font-size="11" text-anchor="start" font-weight="bold" fill="#111">F</text>
<line x1="317.90" y1="407.30" x2="317.90" y2="528.20" stroke="#111" stroke-width="1.7"/>
<line x1="317.10" y1="527.40" x2="489.20" y2="527.40" stroke="#111" stroke-width="1.6"/>
<line x1="315.40" y1="527.40" x2="317.90" y2="527.40" stroke="#111" stroke-width="1.3"/>
<text x="314.40" y="530.30" font-size="8.2" text-anchor="end" font-weight="bold" fill="#111">0</text>
<line x1="315.40" y1="503.38" x2="317.90" y2="503.38" stroke="#111" stroke-width="1.3"/>
<text x="314.40" y="506.28" font-size="8.2" text-anchor="end" font-weight="bold" fill="#111">20</text>
<line x1="315.40" y1="479.36" x2="317.90" y2="479.36" stroke="#111" stroke-width="1.3"/>
<text x="314.40" y="482.26" font-size="8.2" text-anchor="end" font-weight="bold" fill="#111">40</text>
<line x1="315.40" y1="455.34" x2="317.90" y2="455.34" stroke="#111" stroke-width="1.3"/>
<text x="314.40" y="458.24" font-size="8.2" text-anchor="end" font-weight="bold" fill="#111">60</text>
<line x1="315.40" y1="431.32" x2="317.90" y2="431.32" stroke="#111" stroke-width="1.3"/>
<text x="314.40" y="434.22" font-size="8.2" text-anchor="end" font-weight="bold" fill="#111">80</text>
<line x1="315.40" y1="407.30" x2="317.90" y2="407.30" stroke="#111" stroke-width="1.3"/>
<text x="314.40" y="410.20" font-size="8.2" text-anchor="end" font-weight="bold" fill="#111">100</text>
<text x="317.40" y="537.90" font-size="8.0" text-anchor="middle" font-weight="bold" fill="#111">0</text>
<line x1="362.90" y1="527.40" x2="362.90" y2="529.60" stroke="#111" stroke-width="1.2"/>
<text x="362.40" y="537.90" font-size="8.0" text-anchor="middle" font-weight="bold" fill="#111">5</text>
<line x1="407.90" y1="527.40" x2="407.90" y2="529.60" stroke="#111" stroke-width="1.2"/>
<text x="407.40" y="537.90" font-size="8.0" text-anchor="middle" font-weight="bold" fill="#111">10</text>
<line x1="452.90" y1="527.40" x2="452.90" y2="529.60" stroke="#111" stroke-width="1.2"/>
<text x="452.40" y="537.90" font-size="8.0" text-anchor="middle" font-weight="bold" fill="#111">15</text>
<line x1="317.90" y1="407.30" x2="480.60" y2="407.30" stroke="#333" stroke-width="1.2"/>
<path d="M317.9 407.3 H380.4 V431.7 H389.6 V479.6 H398.7 V504.2 H480" fill="none" stroke="#222" stroke-width="1.2"/>
<circle cx="380.40" cy="431.70" r="2.8" fill="#fff" stroke="#111" stroke-width="1.4"/>
<circle cx="389.60" cy="479.60" r="2.8" fill="#fff" stroke="#111" stroke-width="1.4"/>
<circle cx="398.70" cy="504.20" r="2.8" fill="#fff" stroke="#111" stroke-width="1.4"/>
<circle cx="480.00" cy="504.20" r="2.8" fill="#fff" stroke="#111" stroke-width="1.4"/>
<circle cx="480.60" cy="407.30" r="2.9" fill="#6a6a6a" stroke="#111" stroke-width="1.4"/>
<polygon points="492.90,403.30 493.66,405.35 495.85,405.44 494.14,406.80 494.72,408.91 492.90,407.70 491.08,408.91 491.66,406.80 489.95,405.44 492.14,405.35" fill="#111" stroke="#111" stroke-width="0.5" stroke-linejoin="round"/>
<circle cx="434.80" cy="429.50" r="2.9" fill="#6a6a6a" stroke="#111" stroke-width="1.4"/>
<line x1="430.40" y1="442.20" x2="439.80" y2="442.20" stroke="#111" stroke-width="1.3"/>
<circle cx="435.10" cy="442.20" r="2.6" fill="#fff" stroke="#111" stroke-width="1.4"/>
<text x="445" y="432.6" font-size="10.2" font-weight="bold" fill="#111" textLength="61.3" lengthAdjust="spacingAndGlyphs">B6-<tspan font-style="italic">Af</tspan> + pvm</text>
<text x="445.30" y="445.60" font-size="10.2" text-anchor="start" font-weight="bold" fill="#111" textLength="47.2" lengthAdjust="spacingAndGlyphs">B6 + pvm</text>
<text x="397.30" y="549.60" font-size="8.7" text-anchor="start" font-weight="bold" fill="#111" textLength="20.8" lengthAdjust="spacingAndGlyphs">Days</text>
<line x1="317.60" y1="541.00" x2="317.60" y2="552.50" stroke="#111" stroke-width="1.1"/>
<path d="M316.2 542.4 L317.6 539.6 L319.0 542.4 Z" fill="#111" stroke="#111" stroke-width="0.6"/>
<text x="311.80" y="559.20" font-size="7.6" text-anchor="start" font-weight="normal" fill="#111" textLength="15.6" lengthAdjust="spacingAndGlyphs">pvm</text>
<text transform="translate(293.40,498.80) rotate(-90)" font-size="8.8" font-weight="bold" fill="#111" textLength="67.4" lengthAdjust="spacingAndGlyphs">Percent survival</text>
</svg>
</body></html>
